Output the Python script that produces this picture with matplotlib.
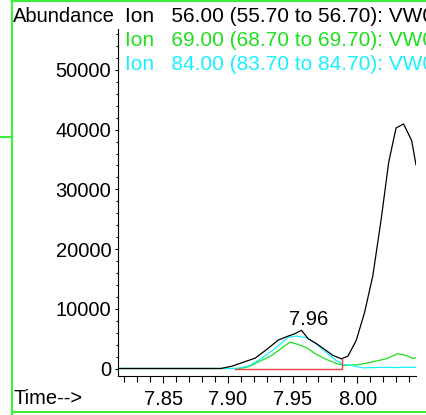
import matplotlib
matplotlib.use('Agg')
import matplotlib.pyplot as plt
from matplotlib.lines import Line2D
from matplotlib.ticker import MultipleLocator

plt.rcParams['font.family'] = ['Liberation Sans', 'DejaVu Sans']

# ion 56 trace (black)
t_56 = [7.815, 7.8944, 7.9031, 7.912, 7.921, 7.930, 7.9389, 7.9466, 7.9518, 7.9569,
        7.962, 7.9685, 7.9748, 7.9812, 7.9877, 7.9928, 7.9992, 8.0056, 8.0120,
        8.0185, 8.0243, 8.0300, 8.0358, 8.0420, 8.0454]
v_56 = [0, 0, 390, 1060, 1730, 3190, 4760, 5430, 5830, 6390,
        4990, 4150, 3190, 2180, 1630, 2070, 4710, 9360, 15510,
        25040, 34570, 40290, 40960, 38200, 34120]

# ion 69 trace (green)
t_69 = [7.815, 7.909, 7.9158, 7.9248, 7.9338, 7.9402, 7.9479, 7.9543, 7.9608, 7.9685,
        7.9762, 7.9838, 7.9902, 7.994, 8.0018, 8.012, 8.0223, 8.0312, 8.0377, 8.0428, 8.0454]
v_69 = [0, 0, 280, 1230, 2180, 3190, 4430, 4030, 3480, 2350,
        1510, 840, 500, 560, 670, 1120, 1630, 2470, 2180, 1680, 1800]

# ion 84 trace (cyan)
t_84 = [7.815, 7.906, 7.9158, 7.9248, 7.9338, 7.9402, 7.9466, 7.9531, 7.9608, 7.9672,
        7.9748, 7.9825, 7.989, 7.994, 8.0043, 8.012, 8.02, 8.03, 8.036, 8.0454]
v_84 = [0, 0, 390, 1510, 2910, 4030, 5260, 5430, 5160, 4320,
        2910, 1510, 670, 560, 110, 150, 200, 150, 220, 180]

# integration baseline of the 7.96 peak
base_start, base_end, base_end_height = 7.9055, 7.9884, 1630
peak_label = '7.96'

ion_labels = ['Ion   56.00 (55.70 to 56.70): VW01.D',
              'Ion   69.00 (68.70 to 69.70): VW01.D',
              'Ion   84.00 (83.70 to 84.70): VW01.D']
ion_colors = ['black', '#1ee01e', '#18f0ff']

FS = 14.5

fig = plt.figure(figsize=(4.26, 4.15), dpi=100)
ax = fig.add_axes([117.5 / 426, 39 / 415, 298.5 / 426, 347 / 415])

ax.plot(t_69, v_69, color=ion_colors[1], lw=0.9)
ax.plot(t_84, v_84, color=ion_colors[2], lw=0.9)
ax.plot(t_56, v_56, color=ion_colors[0], lw=0.9)

# red baseline
ax.plot([base_start, base_end, base_end], [0, 0, base_end_height], color='#f04040', lw=1.0)

ax.text(7.962, 7300, peak_label, ha='center', va='baseline', fontsize=FS)

ax.set_xlim(7.8146, 8.0454)
ax.set_ylim(-1256, 56860)

ax.xaxis.set_major_locator(MultipleLocator(0.05))
ax.xaxis.set_minor_locator(MultipleLocator(0.01))
ax.yaxis.set_major_locator(MultipleLocator(10000))
ax.yaxis.set_minor_locator(MultipleLocator(2000))
ax.xaxis.set_major_formatter(matplotlib.ticker.FormatStrFormatter('%.2f'))

ax.tick_params(axis='x', which='major', length=5, width=0.8, pad=5, labelsize=FS)
ax.tick_params(axis='x', which='minor', length=4, width=0.8)
ax.tick_params(axis='y', which='major', length=2.5, width=0.8, pad=2, labelsize=FS)
ax.tick_params(axis='y', which='minor', length=1.2, width=0.8)

for s in ['top', 'right']:
    ax.spines[s].set_visible(False)
for s in ['left', 'bottom']:
    ax.spines[s].set_linewidth(0.8)

# header texts
fig.text(12.5 / 426, 1 - 16 / 415, 'Abundance', ha='left', va='center', fontsize=FS)
for i, (lab, col) in enumerate(zip(ion_labels, ion_colors)):
    fig.text(125 / 426, 1 - (16 + 24 * i) / 415, lab, ha='left', va='center',
             fontsize=15, color=col)
fig.text(13.5 / 426, 1 - 398 / 415, 'Time-->', ha='left', va='center', fontsize=FS)

# green frame lines
frame = '#3cf03c'
fig.add_artist(Line2D([11.5 / 426, 11.5 / 426], [0, 1], color=frame, lw=1.5))
fig.add_artist(Line2D([11.5 / 426, 1], [1 - 0.8 / 415, 1 - 0.8 / 415], color=frame, lw=1.5))
fig.add_artist(Line2D([11.5 / 426, 1], [3 / 415, 3 / 415], color=frame, lw=1.5))
fig.add_artist(Line2D([0, 11.5 / 426], [1 - 137 / 415, 1 - 137 / 415], color=frame, lw=1.5))

fig.savefig('out.png', dpi=100)
